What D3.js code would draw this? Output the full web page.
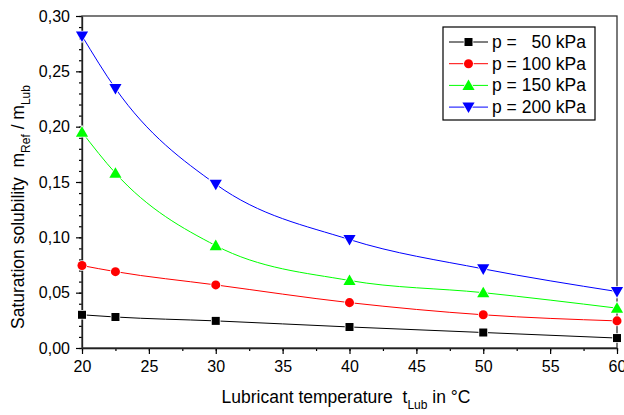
<!DOCTYPE html>
<html>
<head>
<meta charset="utf-8">
<script src="https://cdn.jsdelivr.net/npm/d3@7"></script>
<style>
  body { margin: 0; background: #fff; }
  svg { font-family: "Liberation Sans", Arial, sans-serif; }
</style>
</head>
<body>
<svg id="chart" width="624" height="415"></svg>
<script>
const temps = [20, 22.5, 30, 40, 50, 60];
const p50 = [0.030, 0.028, 0.0245, 0.019, 0.014, 0.009];
const p100 = [0.0745, 0.069, 0.057, 0.041, 0.030, 0.0245];
const p150 = [0.195, 0.158, 0.0925, 0.061, 0.050, 0.036];
const p200 = [0.282, 0.2345, 0.148, 0.098, 0.0715, 0.051];
const seriesNames = ["p =   50 kPa", "p = 100 kPa", "p = 150 kPa", "p = 200 kPa"];
const seriesColors = ["#000000", "#ff0000", "#00ff00", "#0000ff"];
const seriesShapes = ["square", "circle", "triangle", "triangleDown"];
const xTicks = [20, 25, 30, 35, 40, 45, 50, 55, 60];
const yTicks = [0, 0.05, 0.10, 0.15, 0.20, 0.25, 0.30];

const MARGIN = { top: 16, right: 7, bottom: 67, left: 82 };

const svg = d3.select("#chart");
const width = +svg.attr("width");
const height = +svg.attr("height");
const x = d3.scaleLinear([20, 60], [MARGIN.left, width - MARGIN.right]);
const y = d3.scaleLinear([0, 0.30], [height - MARGIN.bottom, MARGIN.top]);

const fmt = (d) => d3.format(".2f")(d).replace(".", ",");

// minor ticks
svg.append("g")
  .attr("transform", `translate(0,${y(0)})`)
  .call(d3.axisBottom(x).tickValues(d3.range(20, 60.1, 2.5)).tickSize(3).tickFormat(""))
  .call((g) => g.select(".domain").remove());
svg.append("g")
  .attr("transform", `translate(${x(20)},0)`)
  .call(d3.axisLeft(y).tickValues(d3.range(0, 0.301, 0.01)).tickSize(3).tickFormat(""))
  .call((g) => g.select(".domain").remove());

// major axes
const xAxis = svg.append("g")
  .attr("transform", `translate(0,${y(0)})`)
  .call(d3.axisBottom(x).tickValues(xTicks).tickSize(6).tickSizeOuter(0).tickPadding(7));
const yAxis = svg.append("g")
  .attr("transform", `translate(${x(20)},0)`)
  .call(d3.axisLeft(y).tickValues(yTicks).tickSize(6).tickSizeOuter(0).tickPadding(6).tickFormat(fmt));
[xAxis, yAxis].forEach((g) => {
  g.attr("font-size", 16).attr("font-family", null);
  g.selectAll("text").attr("fill", "#000");
  g.selectAll("line, path").attr("stroke", "#000").attr("stroke-width", 1.3);
});
svg.selectAll("g line").attr("stroke", "#000").attr("stroke-width", 1.2);

// frame
svg.append("rect")
  .attr("x", x(20)).attr("y", y(0.30))
  .attr("width", x(60) - x(20)).attr("height", y(0) - y(0.30))
  .attr("fill", "none").attr("stroke", "#333").attr("stroke-width", 1.3);

const allSeries = [p50, p100, p150, p200];
const line = d3.line()
  .x((d, i) => x(temps[i]))
  .y((d) => y(d))
  .curve(d3.curveMonotoneX);

const symbolFor = {
  square: d3.symbol(d3.symbolSquare, 64),
  circle: d3.symbol(d3.symbolCircle, 64),
  triangle: d3.symbol(d3.symbolTriangle, 64),
  triangleDown: d3.symbol(d3.symbolTriangle, 64),
};

function drawMarker(g, shape, color, cx, cy) {
  const rot = shape === "triangleDown" ? 180 : 0;
  const dy = shape === "triangle" ? 1 : shape === "triangleDown" ? -1 : 0;
  g.append("path")
    .attr("d", symbolFor[shape]())
    .attr("transform", `translate(${cx},${cy + dy}) rotate(${rot})`)
    .attr("fill", color)
    .attr("stroke", "#fff")
    .attr("stroke-width", 1.5)
    .attr("paint-order", "stroke");
}

allSeries.forEach((values, s) => {
  const g = svg.append("g");
  g.append("path")
    .datum(values)
    .attr("d", line)
    .attr("fill", "none")
    .attr("stroke", seriesColors[s])
    .attr("stroke-width", 1);
  values.forEach((v, i) => drawMarker(g, seriesShapes[s], seriesColors[s], x(temps[i]), y(v)));
});

// legend
const legend = svg.append("g");
legend.append("rect")
  .attr("x", 443).attr("y", 27).attr("width", 152).attr("height", 93)
  .attr("fill", "#fff").attr("stroke", "#000").attr("stroke-width", 1.2);
seriesNames.forEach((name, s) => {
  const ly = 42 + s * 21.7;
  legend.append("line")
    .attr("x1", 449).attr("x2", 488).attr("y1", ly).attr("y2", ly)
    .attr("stroke", seriesColors[s]).attr("stroke-width", 1);
  drawMarker(legend, seriesShapes[s], seriesColors[s], 468.5, ly);
  legend.append("text")
    .attr("x", 492).attr("y", ly + 6)
    .attr("font-size", 17.5)
    .style("white-space", "pre")
    .text(name);
});

// axis titles
const xt = svg.append("text")
  .attr("x", 346).attr("y", 403)
  .attr("text-anchor", "middle")
  .attr("font-size", 17.5)
  .style("white-space", "pre");
xt.append("tspan").text("Lubricant temperature  t");
xt.append("tspan").attr("font-size", 12).attr("dy", 6).text("Lub");
xt.append("tspan").attr("dy", -6).text(" in °C");

const yt = svg.append("text")
  .attr("transform", `translate(24,207) rotate(-90)`)
  .attr("text-anchor", "middle")
  .attr("font-size", 17.5)
  .style("white-space", "pre");
yt.append("tspan").text("Saturation solubility  m");
yt.append("tspan").attr("font-size", 12).attr("dy", 6).text("Ref");
yt.append("tspan").attr("dy", -6).text(" / m");
yt.append("tspan").attr("font-size", 12).attr("dy", 6).text("Lub");
</script>
</body>
</html>
